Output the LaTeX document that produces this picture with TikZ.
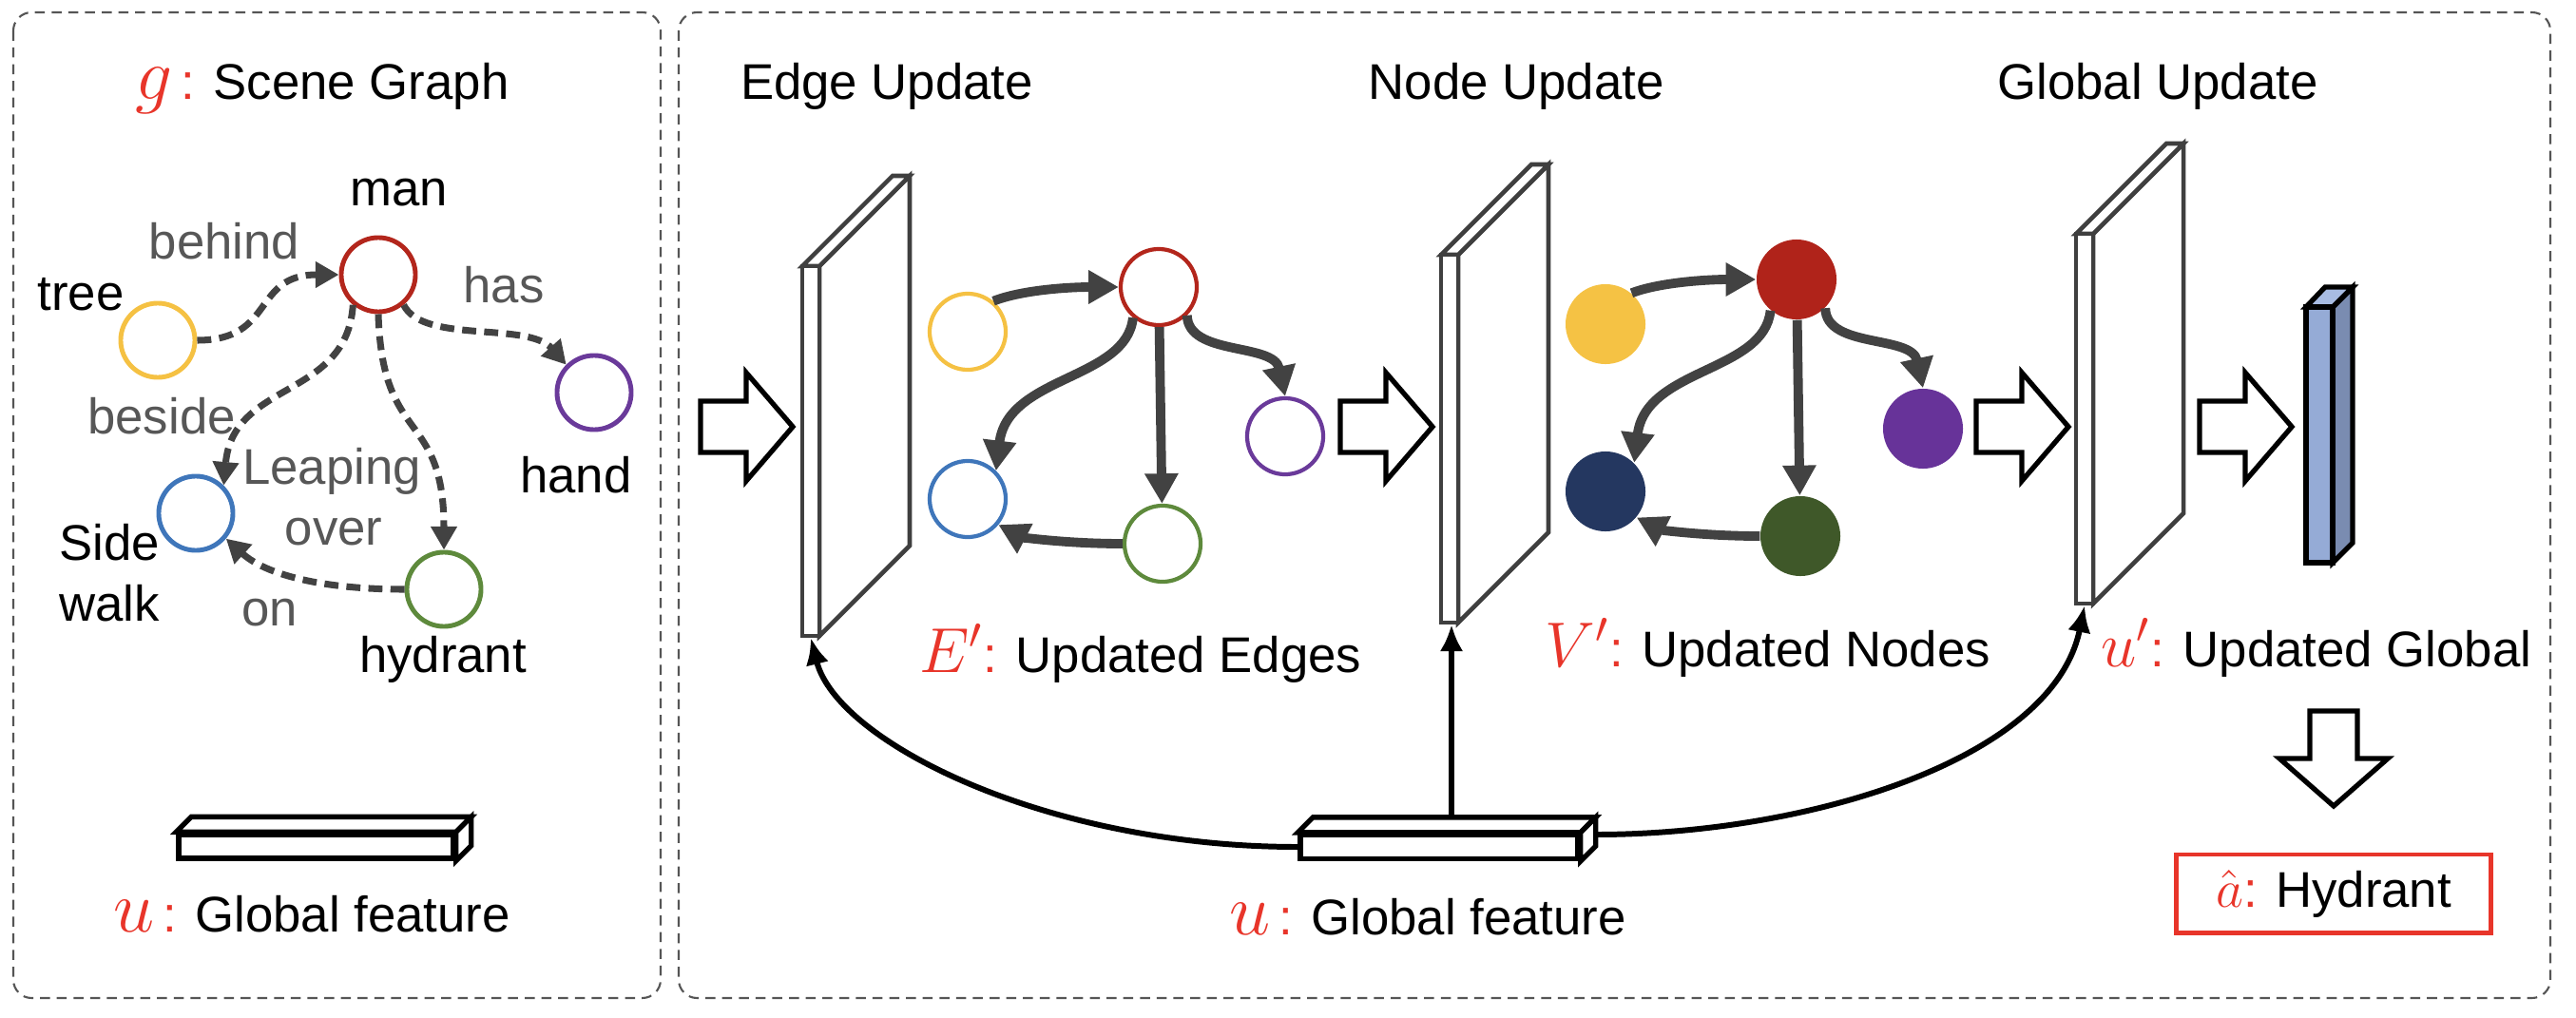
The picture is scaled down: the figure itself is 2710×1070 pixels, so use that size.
\RequirePackage{fix-cm}
\documentclass[tikz,border=0pt]{standalone}
\usepackage{fontspec}
\setmainfont{Liberation Sans}
\usetikzlibrary{arrows.meta,calc}
\definecolor{cy}{HTML}{F5C143}
\definecolor{cr}{HTML}{B3261C}
\definecolor{cp}{HTML}{6A3A9A}
\definecolor{cb}{HTML}{3F76BA}
\definecolor{cgn}{HTML}{5E8A3C}
\definecolor{fy}{HTML}{F5C244}
\definecolor{fr}{HTML}{B0231A}
\definecolor{fp}{HTML}{673399}
\definecolor{fb}{HTML}{243760}
\definecolor{fg}{HTML}{3F5829}
\definecolor{mred}{HTML}{E8352A}
\definecolor{dg}{HTML}{424242}
\definecolor{pg}{HTML}{3F3F3F}
\definecolor{lgray}{HTML}{575757}
\definecolor{pan}{HTML}{555555}
\definecolor{vbf}{HTML}{95ABD6}
\definecolor{vbs}{HTML}{7A8CB1}
\definecolor{vbt}{HTML}{A8BCE3}
\pgfdeclarelayer{bg}
\pgfsetlayers{bg,main}
\newcommand\mth[2]{{\color{mred}\fontsize{#1}{#1}\selectfont$#2$}}
\newcommand\drawplane[3]{%
  \draw[plane] ({#1+18},#2) -- ({#1+113},{#2-95}) -- ({#1+113},{#3-95}) -- ({#1+18},#3) -- cycle;
  \draw[plane] (#1,#2) -- ({#1+95},{#2-95}) -- ({#1+113},{#2-95}) -- ({#1+18},#2) -- cycle;
  \draw[plane] (#1,#2) rectangle ({#1+18},#3);}
\newcommand\blockarrow[1]{%
  \draw[blk] (#1,422) -- ({#1+48},422) -- ({#1+48},392) -- ({#1+97},449) -- ({#1+48},506) -- ({#1+48},476) -- (#1,476) -- cycle;}
\newcommand\barfaces[1]{%
  \draw[barf] (#1.north west) -- ++(16,-16) -- ($(#1.north east)+(16,-16)$) -- (#1.north east) -- cycle;
  \draw[barf] (#1.north east) -- ++(16,-16) -- ($(#1.south east)+(16,-16)$) -- (#1.south east) -- cycle;}
\newcommand\midedges[1]{%
  \draw[sedge] (#1y.50) .. controls (1075,305) and (1125,302) .. (#1r.west);
  \draw[sedge] (#1r.-130) .. controls (1185,400) and (1060,395) .. (#1b.45);
  \draw[sedge] (#1r) -- (#1g);
  \draw[sedge] (#1r.-45) .. controls (1250,375) and (1340,360) .. (#1p.north);
  \draw[sedge] (#1g.west) .. controls (1120,572) and (1075,565) .. (#1b.-40);}
\begin{document}
\begin{tikzpicture}[x=0.01cm,y=-0.01cm,font=\fontsize{15}{18}\selectfont,
  lbl/.style={inner sep=0,anchor=base},
  elbl/.style={lbl,text=lgray},
  panel/.style={draw=pan,line width=0.6pt,dash pattern=on 3pt off 2pt,rounded corners=5.5pt},
  gcirc/.style={circle,minimum size=0.78cm,inner sep=0,line width=1.4pt,fill=white},
  mcirc/.style={circle,minimum size=0.80cm,inner sep=0,line width=1.2pt,fill=white},
  fcirc/.style={circle,minimum size=0.84cm,inner sep=0},
  dedge/.style={draw=dg,line width=2pt,dash pattern=on 4.2pt off 2.4pt,-{Triangle[length=7pt,width=7.5pt]}},
  sedge/.style={draw=dg,line width=2.8pt,-{Triangle[length=9pt,width=9.5pt]}},
  plane/.style={draw=pg,line width=1.3pt,fill=white,line join=miter},
  blk/.style={draw=black,line width=1.5pt,fill=white},
  barf/.style={draw=black,line width=1.5pt,fill=white,line join=miter},
  gline/.style={draw=black,line width=1.7pt,-{Latex[length=8pt,width=7pt]}}]
\useasboundingbox (0,0) rectangle (2710,1070);
% panels
\draw[panel] (14,13) rectangle (695,1050);
\draw[panel] (714,13) rectangle (2683,1050);

% ---------- left panel ----------
\node[lbl] (title0) at (339,105) {\mth{22}{g}\,{\color{mred}:} Scene Graph};
\node[gcirc,draw=cr] (man) at (398,289) {};
\node[gcirc,draw=cy] (tree) at (166,358) {};
\node[gcirc,draw=cp] (hand) at (625,413) {};
\node[gcirc,draw=cb] (walk) at (206,540) {};
\node[gcirc,draw=cgn] (hyd) at (467,620) {};
\draw[dedge] (tree.east) .. controls (290,358) and (265,289) .. (man.west);
\draw[dedge] (man.-50) .. controls (445,362) and (555,338) .. (hand.135);
\draw[dedge] (man.-130) .. controls (365,420) and (245,400) .. (walk.45);
\draw[dedge] (man.south) .. controls (402,470) and (467,430) .. (hyd.north);
\draw[dedge] (hyd.west) .. controls (340,620) and (280,605) .. (walk.-40);
\node[lbl] (tman) at (420,216) {man};
\node[lbl] (ttree) at (85,326) {tree};
\node[lbl] (thand) at (606,518) {hand};
\node[lbl] (tside) at (115,589) {Side};
\node[lbl] (twalk) at (115,653) {walk};
\node[lbl] (thyd) at (466,707) {hydrant};
\node[elbl] (lbehind) at (236,272) {behind};
\node[elbl] (lhas) at (530,318) {has};
\node[elbl] (lbeside) at (170,456) {beside};
\node[elbl] (lleap) at (349,509) {Leaping};
\node[elbl] (lover) at (351,573) {over};
\node[elbl] (lon) at (284,658) {on};
\node[draw=black,line width=1.5pt,fill=white,minimum width=2.89cm,minimum height=0.25cm,inner sep=0] (gf1) at (332.5,890.5) {};
\barfaces{gf1}
\node[lbl] (tgf1) at (328,980) {\mth{22}{u}\,{\color{mred}:} Global feature};

% ---------- right panel ----------
\node[lbl] (tedge) at (933,105) {Edge Update};
\node[lbl] (tnode) at (1595,105) {Node Update};
\node[lbl] (tglob) at (2270,105) {Global Update};

\blockarrow{737}
\drawplane{844}{280}{669}
\blockarrow{1410}
\drawplane{1516}{268}{655}
\blockarrow{2079}
\drawplane{2184}{246}{635}
\blockarrow{2314}

% edge-update graph
\node[mcirc,draw=cy] (ey) at (1018,349) {};
\node[mcirc,draw=cr] (er) at (1219,302) {};
\node[mcirc,draw=cp] (ep) at (1352,459) {};
\node[mcirc,draw=cb] (eb) at (1018,525) {};
\node[mcirc,draw=cgn] (eg) at (1223,572) {};
\midedges{e}

% node-update graph
\begin{scope}[shift={(671,-8)}]
\node[fcirc,fill=fy] (ny) at (1018,349) {};
\node[fcirc,fill=fr] (nr) at (1219,302) {};
\node[fcirc,fill=fp] (np) at (1352,459) {};
\node[fcirc,fill=fb] (nb) at (1018,525) {};
\node[fcirc,fill=fg] (ng) at (1223,572) {};
\midedges{n}
\end{scope}

% updated global vector
\draw[barf,fill=vbs] (2454,323) -- (2475,302) -- (2475,571) -- (2454,592) -- cycle;
\draw[barf,fill=vbt] (2426,323) -- (2446,302) -- (2475,302) -- (2454,323) -- cycle;
\draw[barf,fill=vbf] (2426,323) rectangle (2454,592);

% down arrow
\draw[blk] (2430,748) -- (2480,748) -- (2480,798) -- (2512,798) -- (2455,848) -- (2398,798) -- (2430,798) -- cycle;

\node[lbl] (tE) at (1200,707) {\mth{19}{E'}{\color{mred}:} Updated Edges};
\node[lbl] (tV) at (1860,701) {\mth{19}{V'}{\color{mred}:} Updated Nodes};
\node[lbl] (tU) at (2437,701) {\mth{19}{u'}{\color{mred}:} Updated Global};

\node[draw=mred,line width=1.4pt,minimum width=3.3cm,minimum height=0.82cm,inner sep=0] (ans) at (2455,940) {\mth{16}{\hat{a}}{\color{mred}:} Hydrant};

% global feature bar and connectors
\node[draw=black,line width=1.5pt,fill=white,minimum width=2.92cm,minimum height=0.25cm,inner sep=0] (gf2) at (1514,891) {};
\barfaces{gf2}
\coordinate (EPb) at (853,671);
\coordinate (NPb) at (1527,657);
\coordinate (GPb) at (2193,637);
\begin{pgfonlayer}{bg}
\draw[gline] (gf2.west) .. controls (1100,891) and (880,780) .. (EPb);
\draw[gline] ($(gf2.north)+(13,-8)$) -- (NPb);
\draw[gline] ($(gf2.east)+(16,-13)$) .. controls (1900,878) and (2160,800) .. (GPb);
\end{pgfonlayer}
\node[lbl] (tgf2) at (1502,983) {\mth{22}{u}\,{\color{mred}:} Global feature};
\end{tikzpicture}
\end{document}
